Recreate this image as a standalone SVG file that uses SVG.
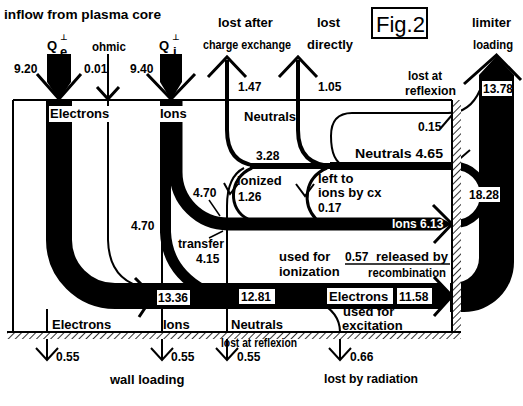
<svg xmlns="http://www.w3.org/2000/svg" width="523" height="406" viewBox="0 0 523 406">
<defs>
<style>
.t{font-family:"Liberation Sans",Arial,sans-serif;font-weight:bold;font-size:13px;fill:#000}
.n{font-size:12px}
.w{fill:#fff}
.bg{fill:#fff}
.band{fill:none;stroke:#000}
.thin{fill:none;stroke:#000;stroke-width:2}
.chev{fill:none;stroke:#000;stroke-width:3}
.sym{font-family:"DejaVu Sans",sans-serif;font-weight:bold;font-size:8px}
</style>
<pattern id="hatch" width="5" height="5" patternUnits="userSpaceOnUse" patternTransform="rotate(45)">
<rect width="5" height="5" fill="#fff"/>
<line x1="0" y1="0" x2="0" y2="5" stroke="#000" stroke-width="1.6"/>
</pattern>
</defs>
<rect width="523" height="406" fill="#fff"/>

<g id="frame">
<line x1="13" y1="100" x2="452" y2="100" stroke="#000" stroke-width="2"/>
<line x1="13" y1="100" x2="13" y2="332" stroke="#000" stroke-width="2"/>
</g>

<g id="connectors">
<!-- electrons inflow -->
<polygon points="47,54 71,54 71,82 59,100 47,82" fill="#000"/>
<polyline class="chev" points="37,74 59,99 81,74"/>
<!-- ohmic -->
<path class="thin" d="M108,54 L108,240 Q109,281 146,288"/>
<polyline class="chev" stroke-width="2" points="97,87 108,99 119,87"/>
<!-- ions inflow -->
<polygon points="160,54 182,54 182,82 171,100 160,82" fill="#000"/>
<polyline class="chev" points="147,74 171,99 195,74"/>

<!-- electrons band -->
<path class="band" stroke-width="26" d="M59,100 L59,240 A56,56 0 0 0 115,296 L440,296"/>
<polygon points="440,283 452,296 440,309" fill="#000"/>
<polyline class="chev" stroke-width="2.5" points="434,277 452,296 434,316"/>
<polyline class="chev" stroke-width="2.5" points="135,278 153,296 139,317"/>

<!-- ions right branch -->
<path class="band" stroke-width="13" d="M176,100 L176,172 A52,52 0 0 0 228,224 L440,224"/>
<polygon points="440,217.5 452,224 440,230.5" fill="#000"/>
<polyline class="chev" stroke-width="2.5" points="433,205 452,224 434,243"/>
<!-- ions down branch / transfer -->
<path class="band" stroke-width="11" d="M165.5,100 L165.5,232 Q167,270 203,290"/>
<line x1="162" y1="238" x2="162" y2="359" stroke="#000" stroke-width="2"/>

<!-- neutrals -->
<path class="band" stroke-width="6" d="M332,166 L250,166"/>
<path class="band" stroke-width="8" d="M455,166 L330,166"/>
<path class="band" stroke-width="8" d="M455,166 A29,29 0 0 1 455,224"/>
<path class="band" stroke-width="4" d="M262,166 Q227,166 227,130 L227,60"/>
<polyline class="chev" points="208,77 227,57 246,77"/>
<path class="band" stroke-width="4" d="M334,166 Q298,166 298,130 L298,60"/>
<polyline class="chev" points="279,77 298,57 317,77"/>
<path class="thin" d="M480,90 Q470,113 448,113 L352,113 Q331,113 331,136 Q331,162 345,166"/>
<line x1="440" y1="129" x2="452" y2="115" stroke="#000" stroke-width="2"/>
<path class="band" stroke-width="3" d="M252,168 C228,178 228,210 248,219"/>
<path class="band" stroke-width="3" d="M327,168 C304,178 302,204 316,219"/>
<polyline class="thin" points="296,184 305,196 314,184"/>
<path class="thin" d="M244,168 C232,174 227,188 227,206 L227,359"/>
<polyline class="thin" points="224,183 230,194 238,184"/>
<line x1="456" y1="162" x2="470" y2="150" stroke="#000" stroke-width="2"/>

<!-- pointers -->
<line x1="209" y1="200" x2="220" y2="216" stroke="#000" stroke-width="1.5"/>
<line x1="209" y1="238" x2="223" y2="231" stroke="#000" stroke-width="1.5"/>

<!-- limiter band -->
<path d="M479,75 L496.5,56 L514,75 L514,262 A50,50 0 0 1 464,312 L450,312 L450,283 L454,283 A25,25 0 0 0 479,258 Z" fill="#000"/>
<polyline class="chev" stroke-width="4" points="464,84 496.5,55 521,80"/>

<!-- recombination line -->
<line x1="345" y1="264" x2="450" y2="264" stroke="#000" stroke-width="1.5"/>

<!-- excitation -->
<path class="thin" d="M317,301 Q340,312 340,332 L340,359"/>
<polyline class="thin" points="329,348 340,360 351,348"/>

<!-- wall arrows -->
<line x1="47" y1="309" x2="47" y2="359" stroke="#000" stroke-width="2"/>
<polyline class="thin" points="36,348 47,360 58,348"/>
<polyline class="thin" points="151,348 162,360 173,348"/>
<polyline class="thin" points="216,348 227,360 238,348"/>
</g>

<g id="walls">
<rect x="452" y="100" width="9" height="232" fill="url(#hatch)"/>
<line x1="452" y1="100" x2="452" y2="332" stroke="#000" stroke-width="2"/>
<rect x="7" y="332" width="454" height="7" fill="url(#hatch)"/>
<line x1="7" y1="332" x2="461" y2="332" stroke="#000" stroke-width="2"/>
</g>

<g id="labels-top">
<text class="t" x="4" y="19" textLength="157" lengthAdjust="spacingAndGlyphs">inflow from plasma core</text>
<text class="t" x="47" y="50" font-size="15">Q</text>
<text class="sym" x="60" y="40">⊥</text>
<text class="t" x="60" y="56" font-size="8">e</text>
<text class="t" x="92" y="51" textLength="34" lengthAdjust="spacingAndGlyphs">ohmic</text>
<text class="t" x="159" y="50" font-size="15">Q</text>
<text class="sym" x="172" y="40">⊥</text>
<text class="t" x="173" y="56" font-size="8">i</text>
<text class="t n" x="14" y="73">9.20</text>
<text class="t n" x="84" y="73">0.01</text>
<text class="t n" x="130" y="73">9.40</text>
<text class="t" x="218" y="27">lost after</text>
<text class="t" x="203" y="49" font-size="10.5" textLength="88" lengthAdjust="spacingAndGlyphs">charge exchange</text>
<text class="t" x="317" y="27">lost</text>
<text class="t" x="307" y="49" font-size="12" textLength="46" lengthAdjust="spacingAndGlyphs">directly</text>
<g id="fig-label">
<rect x="372" y="8" width="55" height="30" fill="none" stroke="#000" stroke-width="2"/>
<text x="376" y="32" font-family="Liberation Sans,Arial,sans-serif" font-size="22">Fig.2</text>
</g>
<text class="t" x="472" y="27">limiter</text>
<text class="t" x="473" y="49" textLength="40" lengthAdjust="spacingAndGlyphs">loading</text>
<text class="t n" x="238" y="91">1.47</text>
<text class="t n" x="318" y="91">1.05</text>
<text class="t" x="408" y="80" textLength="34" lengthAdjust="spacingAndGlyphs">lost at</text>
<text class="t" x="405" y="95" textLength="51" lengthAdjust="spacingAndGlyphs">reflexion</text>
<rect class="bg" x="482" y="81" width="30" height="15"/>
<text class="t n" x="483" y="93">13.78</text>
</g>

<g id="labels-inner">
<rect class="bg" x="49" y="106" width="64" height="16"/>
<text class="t" x="50" y="118">Electrons</text>
<rect class="bg" x="159" y="106" width="25" height="16"/>
<text class="t" x="160" y="118">Ions</text>
<text class="t" x="244" y="121">Neutrals</text>
<text class="t n" x="256" y="160">3.28</text>
<text class="t" x="355" y="158" textLength="88" lengthAdjust="spacingAndGlyphs">Neutrals 4.65</text>
<text class="t n" x="418" y="131">0.15</text>
<text class="t" x="237" y="185">ionized</text>
<text class="t n" x="238" y="201">1.26</text>
<text class="t" x="318" y="183">left to</text>
<text class="t" x="318" y="197" font-size="12.5">ions by cx</text>
<text class="t n" x="318" y="212">0.17</text>
<text class="t n w" x="392" y="228">Ions 6.13</text>
<rect class="bg" x="468" y="187" width="32" height="15"/>
<text class="t n" x="469" y="199">18.28</text>
<text class="t n" x="193" y="197">4.70</text>
<text class="t n" x="131" y="230">4.70</text>
<text class="t" x="178" y="248" textLength="46" lengthAdjust="spacingAndGlyphs">transfer</text>
<text class="t n" x="196" y="263">4.15</text>
<text class="t" x="279" y="261">used for</text>
<text class="t" x="279" y="276">ionization</text>
<text class="t n" x="345" y="261">0.57</text>
<text class="t" x="376" y="261" textLength="72" lengthAdjust="spacingAndGlyphs">released by</text>
<text class="t" x="368" y="277" font-size="12" textLength="78" lengthAdjust="spacingAndGlyphs">recombination</text>
<rect class="bg" x="157" y="290" width="33" height="15"/>
<text class="t n" x="158" y="302">13.36</text>
<rect class="bg" x="239" y="289" width="36" height="15"/>
<text class="t n" x="241" y="301">12.81</text>
<rect class="bg" x="327" y="288" width="66" height="16"/>
<text class="t" x="329" y="301">Electrons</text>
<rect class="bg" x="397" y="288" width="35" height="16"/>
<text class="t n" x="399" y="301">11.58</text>
<text class="t" x="343" y="316" font-size="11.5">used for</text>
<text class="t" x="342" y="330" font-size="11.5">excitation</text>
</g>

<g id="labels-bottom">
<text class="t" x="52" y="329" font-size="12.5">Electrons</text>
<text class="t" x="163" y="329" font-size="12.5">Ions</text>
<text class="t" x="231" y="329" font-size="12.5">Neutrals</text>
<text class="t" x="221" y="347" font-size="11" textLength="76" lengthAdjust="spacingAndGlyphs">lost at reflexion</text>
<text class="t n" x="56" y="361">0.55</text>
<text class="t n" x="171" y="361">0.55</text>
<text class="t n" x="237" y="361">0.55</text>
<text class="t n" x="350" y="361">0.66</text>
<text class="t" x="110" y="384">wall loading</text>
<text class="t" x="324" y="383" textLength="94" lengthAdjust="spacingAndGlyphs">lost by radiation</text>
</g>
</svg>
